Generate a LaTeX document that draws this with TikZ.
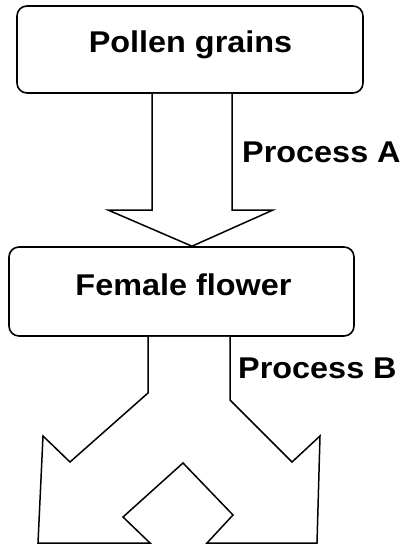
\documentclass[tikz,border=0pt]{standalone}
\usepackage{fontspec}
\setmainfont{Liberation Sans}[FakeStretch=1.08]
\begin{document}
\begin{tikzpicture}[x=1pt,y=-1pt,
  box/.style={draw, line width=1.6pt, rounded corners=10pt, inner sep=0pt},
  lbl/.style={inner sep=0pt, font=\fontsize{30}{36}\selectfont\bfseries},
  blockarrow/.style={draw, line width=1.5pt, line join=miter, fill=white}]
  \useasboundingbox (0,0) rectangle (404,545);

  % boxes
  \node[box, minimum width=346pt, minimum height=87pt] (pollen) at (190,49.5) {};
  \node[box, minimum width=345pt, minimum height=89pt] (female) at (181.5,291.5) {};

  % box texts
  \node[lbl, anchor=base] (pollentxt) at (190.5,53) {Pollen grains};
  \node[lbl, anchor=base] (femaletxt) at (183.5,295) {Female flower};

  % Process A: single block arrow from pollen to female flower
  \draw[blockarrow] (152,0 |- pollen.south) -- (152,210) -- (108,210)
    -- (192,0 |- female.north) -- (273,210) -- (232,210) -- (232,0 |- pollen.south);
  \node[lbl, anchor=base west] (procA) at (242,163) {Process A};

  % Process B: forked block arrow below the female flower
  \draw[blockarrow] (148,0 |- female.south) -- (148,393) -- (70,462) -- (43,436)
    -- (38,543) -- (150,543) -- (123,517) -- (183,463) -- (233,515) -- (207,543)
    -- (317,543) -- (320,436) -- (292,462) -- (230,400) -- (230,0 |- female.south);
  \node[lbl, anchor=base west] (procB) at (238,378) {Process B};
\end{tikzpicture}
\end{document}
